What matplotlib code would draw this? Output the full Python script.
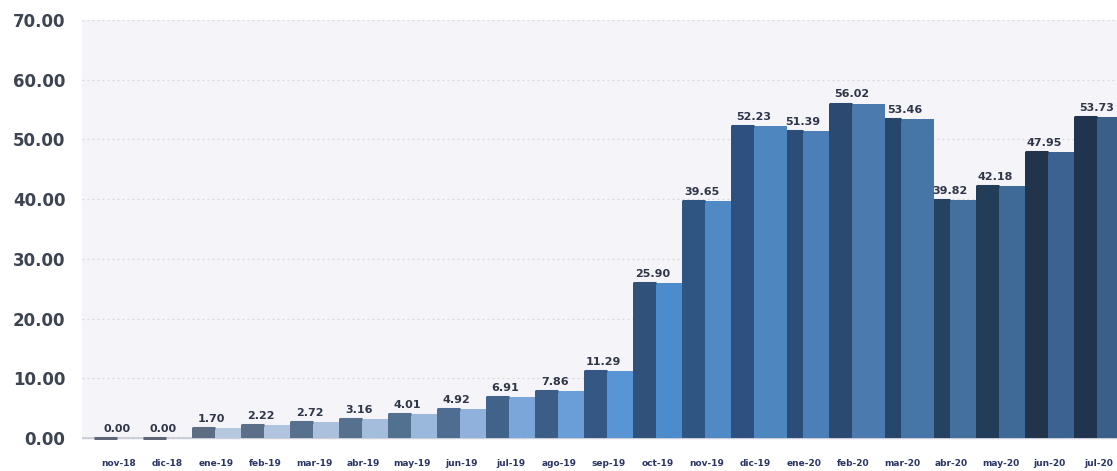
import matplotlib.pyplot as plt
import numpy as np

months = ['nov-18', 'dic-18', 'ene-19', 'feb-19', 'mar-19', 'abr-19', 'may-19',
          'jun-19', 'jul-19', 'ago-19', 'sep-19', 'oct-19', 'nov-19', 'dic-19',
          'ene-20', 'feb-20', 'mar-20', 'abr-20', 'may-20', 'jun-20', 'jul-20']
values = [0.00, 0.00, 1.70, 2.22, 2.72, 3.16, 4.01, 4.92, 6.91, 7.86, 11.29,
          25.90, 39.65, 52.23, 51.39, 56.02, 53.46, 39.82, 42.18, 47.95, 53.73]

# front face / side face colours, light blue-grey to navy
front = ['#b8c9de', '#b8c9de', '#b6c8e0', '#b0c4df', '#aac0dc', '#a4bddc', '#9ab7dc',
         '#8fb1dc', '#7aa6da', '#6a9ed8', '#5995d4', '#4d8ccc', '#4f8ac6', '#4e86c0',
         '#4b7fb8', '#4a7aae', '#4676a8', '#43709f', '#3f6a98', '#3b6290', '#3a5f88']
side = ['#5c6676', '#5c6676', '#5d6e84', '#5b6f88', '#56708e', '#56708e', '#52708f',
        '#4f6d91', '#426389', '#3b5d86', '#345883', '#30527a', '#2f5582', '#2d5080',
        '#2c4d78', '#2a4a72', '#27466c', '#254263', '#233c58', '#22344c', '#203450']

d = 0.47   # side face width (slot units)
l = 0.67   # front face width

fig = plt.figure(figsize=(11.17, 4.71), dpi=100)
ax = fig.add_axes([82 / 1117, 31 / 471, 1 - 82 / 1117, 420 / 471])
ax.set_facecolor('#f5f5f9')

x = np.arange(len(values))
for i, v in enumerate(values):
    z = 3 + v / 100  # taller bars sit in front of their neighbours
    ax.bar(x[i], v, width=d, align='edge', color=side[i], linewidth=0, zorder=z)
    ax.bar(x[i] + d, v, width=l, align='edge', color=front[i], linewidth=0, zorder=z)
    ax.hlines(v, x[i], x[i] + d, color=side[i], lw=2.2, zorder=z)

# value labels centred over the visible part of each top
n = len(values)
for i, v in enumerate(values):
    lo = x[i]
    hi = x[i] + d + l
    if i > 0 and values[i - 1] > v:
        lo = x[i - 1] + d + l
    if i < n - 1 and values[i + 1] > v:
        hi = x[i + 1]
    ax.annotate(f'{v:.2f}', ((lo + hi) / 2 - 0.1, v), xytext=(0, 3),
                textcoords='offset points', ha='center', va='bottom',
                fontsize=8, fontweight='bold', color='#2e3648', zorder=10)

ax.axhline(0, color='#c5c9d2', lw=1.2, zorder=2)

ax.set_xlim(-12 / 49, 1023 / 49)
ax.set_ylim(-0.3, 70)
ax.set_yticks(np.arange(0, 71, 10))
ax.set_yticklabels([f'{t:.2f}' for t in np.arange(0, 71, 10)])
ax.yaxis.grid(True, linestyle=(0, (1.5, 2.5)), color='#d6d7de', lw=0.9, zorder=0)
ax.set_axisbelow(True)
ax.set_xticks(x + 0.5)
ax.set_xticklabels(months)

ax.tick_params(axis='y', length=0, pad=12, labelsize=12, labelcolor='#3d4452')
ax.tick_params(axis='x', length=0, pad=14, labelsize=6.5, labelcolor='#2a3566')
for lab in ax.get_yticklabels():
    lab.set_fontweight('bold')
for lab in ax.get_xticklabels():
    lab.set_fontweight('bold')

for s in ax.spines.values():
    s.set_visible(False)

fig.savefig('out.png', dpi=100, facecolor='white')
